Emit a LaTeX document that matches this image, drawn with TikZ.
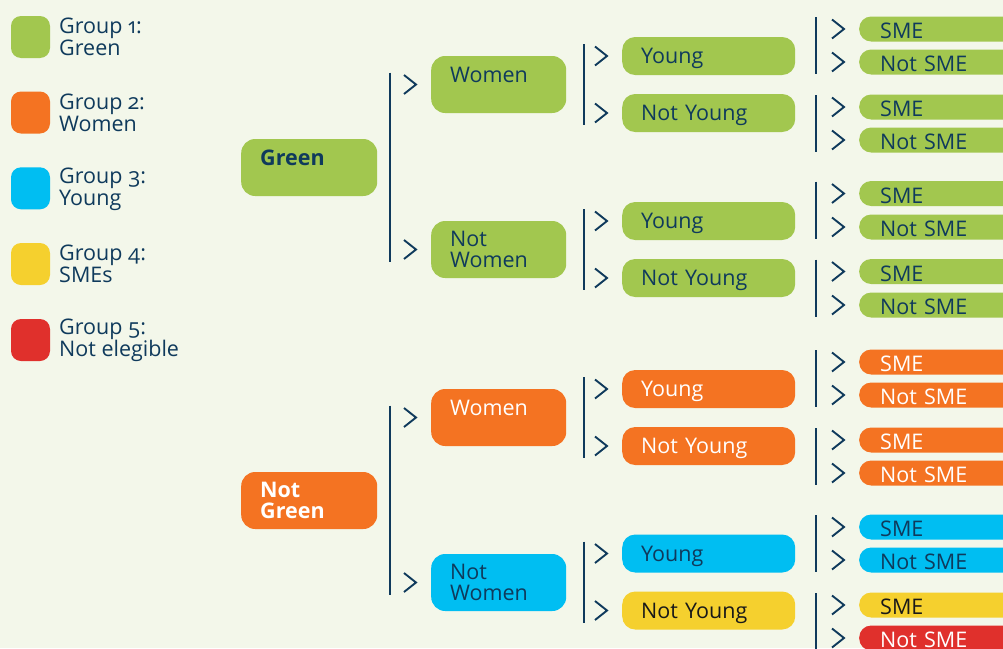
\documentclass[tikz,border=0pt]{standalone}
\usepackage{fontspec}
\setmainfont{Open Sans}[Numbers=OldStyle]
\usetikzlibrary{calc}
\definecolor{bgcol}{HTML}{F3F7EA}
\definecolor{navy}{HTML}{0F3A5C}
\definecolor{cgreen}{HTML}{A2C74F}
\definecolor{corange}{HTML}{F47322}
\definecolor{cblue}{HTML}{00BEF2}
\definecolor{cyellow}{HTML}{F5D02E}
\definecolor{cred}{HTML}{E0302C}
\def\fork[#1](#2)(#3){\draw[forkline] ($(#2.west)+(-#1,-12)$) -- ($(#3.west)+(-#1,12)$);
	\draw[chev] ($(#2.west)+(-27,-9.5)$) -- ++(12,9.5) -- ++(-12,9.5);
	\draw[chev] ($(#3.west)+(-27,-9.5)$) -- ++(12,9.5) -- ++(-12,9.5);}
\tikzset{
	forkline/.style={line width=2.3pt, color=navy},
	chev/.style={line width=1.9pt, color=navy},
	box/.style={rounded corners=14pt, inner xsep=19pt, inner ysep=0pt, align=left, anchor=west, font=\fontsize{21.5}{21}\selectfont},
	lvlone/.style={box, text width=98pt, minimum height=57pt, font=\fontsize{21.5}{21}\selectfont\bfseries},
	lvltwo/.style={box, text width=97pt, minimum height=57pt},
	oneline/.style={text height=26pt, text depth=31pt},
	lvlthree/.style={box, rounded corners=13pt, text width=135pt, minimum height=38pt, text height=15pt, text depth=0pt},
	lvlfour/.style={box, rounded corners=12pt, inner xsep=21pt, text width=140pt, minimum height=25pt, text height=19pt, text depth=0pt},
	grn/.style={fill=cgreen, text=navy},
	org/.style={fill=corange, text=white},
	blu/.style={fill=cblue, text=navy},
	ylw/.style={fill=cyellow, text=black!90},
	rd/.style={fill=cred, text=white},
	legsq/.style={rounded corners=10pt, minimum width=39pt, minimum height=42pt, inner sep=0pt},
	legtext/.style={anchor=west, inner sep=0pt, align=left, text=navy, font=\fontsize{21.5}{22}\selectfont}
}

\begin{document}
\begin{tikzpicture}[x=1pt, y=-1pt]
			%%%%% START %%%%%
			
			\fill[bgcol] (0, 0) rectangle (1003, 648);
			\clip (0, 0) rectangle (1003, 648);
			
			% legend
			\node[legsq, fill=cgreen] (lgGreen) at (30.5, 37) {};
			\node[legtext] (ltGreen) at (59, 37) {Group 1:\\Green};
			\node[legsq, fill=corange] (lgWomen) at (30.5, 112.5) {};
			\node[legtext] (ltWomen) at (59, 112.5) {Group 2:\\Women};
			\node[legsq, fill=cblue] (lgYoung) at (30.5, 188.3) {};
			\node[legtext] (ltYoung) at (59, 189.5) {Group 3:\\Young};
			\node[legsq, fill=cyellow] (lgSme) at (30.5, 264) {};
			\node[legtext] (ltSme) at (59, 264) {Group 4:\\SMEs};
			\node[legsq, fill=cred] (lgNot) at (30.5, 340) {};
			\node[legtext] (ltNot) at (59, 340) {Group 5:\\Not elegible};
			
			% first split
			\node[lvlone, oneline, grn] (g) at (241, 167.5) {Green};
			\node[lvlone, org] (ng) at (241, 500.5) {Not\\Green};
			
			% second split
			\node[lvltwo, oneline, grn] (gW) at (431, 84.5) {Women};
			\node[lvltwo, grn] (gN) at (431, 249.5) {Not\\Women};
			\node[lvltwo, oneline, org] (ngW) at (431, 417.5) {Women};
			\node[lvltwo, blu] (ngN) at (431, 582.5) {Not\\Women};
			
			\fork[41](gW)(gN)
			\fork[41](ngW)(ngN)
			
			% third split
			\node[lvlthree, grn] (gWY) at (622, 56) {Young};
			\node[lvlthree, grn] (gWN) at (622, 113) {Not Young};
			\node[lvlthree, grn] (gNY) at (622, 221) {Young};
			\node[lvlthree, grn] (gNN) at (622, 278) {Not Young};
			\node[lvlthree, org] (ngWY) at (622, 389) {Young};
			\node[lvlthree, org] (ngWN) at (622, 446) {Not Young};
			\node[lvlthree, blu] (ngNY) at (622, 553.5) {Young};
			\node[lvlthree, ylw] (ngNN) at (622, 610.5) {Not Young};
			
			\fork[38](gWY)(gWN)
			\fork[38](gNY)(gNN)
			\fork[38](ngWY)(ngWN)
			\fork[38](ngNY)(ngNN)
			
			% last split
			\node[lvlfour, grn] (gWYs) at (859, 29) {SME};
			\node[lvlfour, grn] (gWYn) at (859, 62) {Not SME};
			\node[lvlfour, grn] (gWNs) at (859, 107) {SME};
			\node[lvlfour, grn] (gWNn) at (859, 140) {Not SME};
			\node[lvlfour, grn] (gNYs) at (859, 193.5) {SME};
			\node[lvlfour, grn] (gNYn) at (859, 227) {Not SME};
			\node[lvlfour, grn] (gNNs) at (859, 271.5) {SME};
			\node[lvlfour, grn] (gNNn) at (859, 305) {Not SME};
			\node[lvlfour, org] (ngWYs) at (859, 362) {SME};
			\node[lvlfour, org] (ngWYn) at (859, 395) {Not SME};
			\node[lvlfour, org] (ngWNs) at (859, 440) {SME};
			\node[lvlfour, org] (ngWNn) at (859, 473) {Not SME};
			\node[lvlfour, blu] (ngNYs) at (859, 527) {SME};
			\node[lvlfour, blu] (ngNYn) at (859, 560) {Not SME};
			\node[lvlfour, ylw] (ngNNs) at (859, 605) {SME};
			\node[lvlfour, rd] (ngNNn) at (859, 638) {Not SME};
			
			\fork[43](gWYs)(gWYn)
			\fork[43](gWNs)(gWNn)
			\fork[43](gNYs)(gNYn)
			\fork[43](gNNs)(gNNn)
			\fork[43](ngWYs)(ngWYn)
			\fork[43](ngWNs)(ngWNn)
			\fork[43](ngNYs)(ngNYn)
			\fork[43](ngNNs)(ngNNn)
			
			%%%%% END %%%%%
\end{tikzpicture}
\end{document}
